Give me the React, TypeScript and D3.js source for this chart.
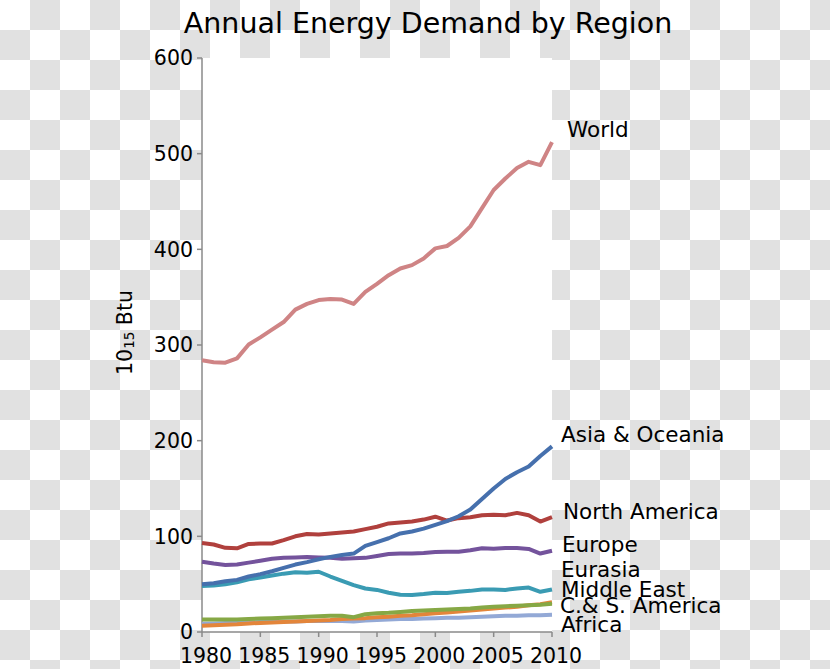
import React from 'react';
import * as d3 from 'd3';

const years = [1980, 1981, 1982, 1983, 1984, 1985, 1986, 1987, 1988, 1989, 1990, 1991, 1992, 1993, 1994, 1995, 1996, 1997, 1998, 1999, 2000, 2001, 2002, 2003, 2004, 2005, 2006, 2007, 2008, 2009, 2010];

const world = [284, 282, 281.5, 286, 300.5, 308, 316, 324, 337, 343, 347, 348, 347.5, 343, 355.5, 364, 373, 380, 383.5, 390.5, 401, 403.5, 412, 424, 443, 462, 474, 485, 491.5, 488, 512];
const asiaOceania = [50, 51, 53, 54.5, 58, 60.5, 63.5, 67, 70.5, 73, 76, 78.5, 80.5, 82, 90, 94, 98, 103, 105, 108, 112, 116, 121, 128, 139, 150, 160, 167, 173, 184, 194];
const northAmerica = [93, 91.5, 88, 87.5, 92, 92.5, 92.5, 96, 100, 102.5, 102, 103, 104, 105, 107.5, 110, 113.5, 114.5, 115.5, 117.5, 120.5, 116.5, 119, 120, 122, 122.5, 122, 124.5, 122, 115.5, 120];
const europe = [73.5, 71.5, 70, 70.5, 72.5, 74.5, 76.5, 77.5, 78, 78.5, 78, 77.5, 76.5, 77, 77.5, 79.5, 81.5, 82, 82, 82.5, 83.5, 84, 84, 85.5, 87.5, 87, 87.8, 87.8, 86.8, 82, 85];
const eurasia = [48, 48.5, 50, 52, 55, 57, 59, 61, 62.5, 62, 63, 58, 53.5, 49, 45.5, 44, 41, 39, 38.7, 39.7, 41, 40.8, 42, 43, 44.5, 44.5, 44, 45.5, 46.5, 42, 44.5];
const middleEast = [6.5, 7, 7.5, 8, 9, 9.5, 10, 10.5, 11, 11.5, 12, 12.5, 13.5, 14, 14.5, 15.5, 16, 17, 17.5, 18.5, 19.5, 20.5, 21.5, 22.5, 23.5, 24.5, 25.5, 26.5, 28, 29, 31];
const csAmerica = [13, 13, 13, 13, 13.5, 14, 14.5, 15, 15.5, 16, 16.5, 17, 17, 15.5, 18.5, 19.5, 20, 21, 22, 22.5, 23, 23.5, 24, 24.5, 25.5, 26.5, 27, 27.5, 28, 28.5, 29.5];
const africa = [8.5, 9, 9.5, 9.5, 10, 10.5, 10.5, 11, 11, 11.5, 11.5, 11.5, 11.5, 11, 12, 12.5, 13, 13.5, 13.5, 14, 14.5, 15, 15, 15.5, 16, 16.5, 17, 17, 17.5, 17.5, 18];

const seriesNames = ['World', 'Asia & Oceania', 'North America', 'Europe', 'Eurasia', 'Middle East', 'C.& S. America', 'Africa'];
const seriesValues = [world, asiaOceania, northAmerica, europe, eurasia, middleEast, csAmerica, africa];

const yTicks = [0, 100, 200, 300, 400, 500, 600];
const xTicks = [1980, 1985, 1990, 1995, 2000, 2005, 2010];

// styling / layout (not data)
const colors = ['#cf8485', '#4670ad', '#b0403d', '#74539c', '#3a9bb3', '#e3853a', '#86a845', '#93a9d6'];
const labelDx = [15, 9, 11, 10, 9, 9, 8, 9];
const labelDy = [-5, -4, 2, 1, -12, -5, 9, 17];
const drawOrder = [0, 2, 3, 4, 1, 7, 5, 6];

const W = 830;
const H = 669;
const left = 202, right = 552, top = 58, bottom = 632;
const FONT = "'DejaVu Sans', sans-serif";

export default function App() {
  const x = d3.scaleLinear().domain([1980, 2010]).range([left, right]);
  const y = d3.scaleLinear().domain([0, 600]).range([bottom, top]);
  const line = d3.line<number>()
    .x((_, i) => x(years[i]))
    .y((d) => y(d));

  return (
    <svg width={W} height={H} style={{ position: 'absolute', left: 0, top: 0, display: 'block' }} fontFamily={FONT}>
      <defs>
        <pattern id="checker" x={0} y={0} width={60} height={60} patternUnits="userSpaceOnUse">
          <rect x={0} y={0} width={60} height={60} fill="#ffffff" />
          <rect x={30} y={0} width={30} height={30} fill="#e1e1e1" />
          <rect x={0} y={30} width={30} height={30} fill="#e1e1e1" />
        </pattern>
      </defs>
      <rect x={0} y={0} width={W} height={H} fill="url(#checker)" />
      <rect x={left} y={top} width={right - left} height={bottom - top} fill="#ffffff" />

      <text x={428} y={33} textAnchor="middle" fontSize={28.5} fill="#000">Annual Energy Demand by Region</text>

      {/* y axis */}
      <line x1={left} x2={left} y1={top} y2={bottom} stroke="#8a8a8a" strokeWidth={1.5} />
      {yTicks.map((t) => (
        <g key={'y' + t}>
          <line x1={left - 5} x2={left} y1={y(t)} y2={y(t)} stroke="#8a8a8a" strokeWidth={1.5} />
          <text x={left - 9} y={y(t)} dy="0.35em" textAnchor="end" fontSize={20.5} fill="#000">{t}</text>
        </g>
      ))}
      {/* x axis */}
      <line x1={left} x2={right} y1={bottom} y2={bottom} stroke="#8a8a8a" strokeWidth={1.5} />
      {xTicks.map((t) => (
        <g key={'x' + t}>
          <line x1={x(t)} x2={x(t)} y1={bottom} y2={bottom + 5} stroke="#8a8a8a" strokeWidth={1.5} />
          <text x={x(t) + 4} y={663} textAnchor="middle" fontSize={20.5} fill="#000">{t}</text>
        </g>
      ))}

      <text transform={`translate(132,332.5) rotate(-90)`} textAnchor="middle" fontSize={20.5} fill="#000">
        10<tspan fontSize={13.5} dy={2}>15</tspan><tspan dy={-2}> Btu</tspan>
      </text>

      {drawOrder.map((i) => (
        <path key={'s' + i} d={line(seriesValues[i]) || ''} fill="none" stroke={colors[i]} strokeWidth={4}
          strokeLinejoin="round" strokeLinecap="butt" />
      ))}

      {seriesNames.map((name, i) => {
        const vals = seriesValues[i];
        const last = vals[vals.length - 1];
        return (
          <text key={'l' + i} x={x(2010) + labelDx[i]} y={y(last) + labelDy[i]} fontSize={21.5} fill="#000">{name}</text>
        );
      })}
    </svg>
  );
}
